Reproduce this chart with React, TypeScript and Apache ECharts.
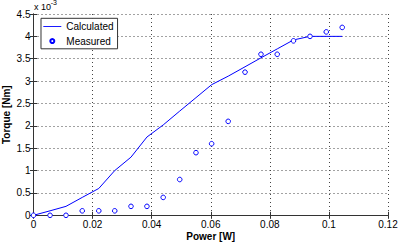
import React, { useEffect, useRef } from "react";
import * as echarts from "echarts";

// Power [W] at which torque was measured / calculated
const powerW = [
  0, 0.0056, 0.011, 0.0165, 0.0221, 0.0275, 0.033, 0.0384, 0.0439, 0.0495,
  0.055, 0.0603, 0.0659, 0.0716, 0.077, 0.0825, 0.088, 0.0936, 0.0991, 0.1045,
];
// Torque in units of 1e-3 Nm
const calculatedTorque = [
  0, 0.1, 0.2, 0.4, 0.6, 1.0, 1.3, 1.75, 2.02, 2.33, 2.63, 2.92, 3.11, 3.32,
  3.52, 3.72, 3.92, 4.0, 4.0, 4.0,
];
const measuredTorque = [
  0, 0, 0, 0.1, 0.1, 0.1, 0.2, 0.2, 0.4, 0.8, 1.4, 1.6, 2.1, 3.2, 3.6, 3.6,
  3.9, 4.0, 4.1, 4.2,
];
const xTicks = { min: 0, max: 0.12, interval: 0.02 };
const yTicks = { min: 0, max: 4.5, interval: 0.5 };
const seriesNames = ["Calculated", "Measured"];

const FONT = "Liberation Sans, Arial, Helvetica, sans-serif";
const AXIS_COLOR = "#333";
const BLUE = "#0000ff";

export default function App() {
  const ref = useRef<HTMLDivElement>(null);
  useEffect(() => {
    if (!ref.current) return;
    const chart = echarts.init(ref.current, null, { renderer: "svg" });
    const lineData = powerW.map((x, i) => [x, calculatedTorque[i]]);
    const scatterData = powerW.map((x, i) => [x, measuredTorque[i]]);
    const axisCommon = {
      type: "value" as const,
      axisLine: { show: true, lineStyle: { color: AXIS_COLOR, width: 1 } },
      axisTick: { show: true, inside: true, length: 3.5, lineStyle: { color: AXIS_COLOR } },
    };
    chart.setOption({
      animation: false,
      backgroundColor: "#fff",
      textStyle: { fontFamily: FONT },
      grid: {
        left: 33.5,
        right: 10,
        top: 14,
        bottom: 28.7,
        containLabel: false,
        outerBoundsMode: "none",
      },
      legend: {
        show: true,
        left: 41,
        top: 18.3,
        orient: "vertical",
        padding: [1.5, 4, 1, 2.3],
        itemGap: 1,
        itemWidth: 18,
        itemHeight: 5,
        backgroundColor: "#fff",
        borderColor: AXIS_COLOR,
        borderWidth: 1,
        borderRadius: 0,
        textStyle: {
          fontSize: 10,
          color: "#000",
          fontFamily: FONT,
          lineHeight: 13.5,
        },
        data: [
          {
            name: seriesNames[0],
            icon: "path://M0,0h20v1h-20z",
            itemStyle: { color: BLUE, borderWidth: 0 },
          },
          { name: seriesNames[1] },
        ],
      },
      xAxis: [
        {
          ...axisCommon,
          position: "bottom",
          ...xTicks,
          name: "Power [W]",
          nameLocation: "middle",
          nameGap: 16.5,
          nameMoveOverlap: false,
          nameTextStyle: { fontSize: 10, fontWeight: "bold", color: "#000", fontFamily: FONT },
          axisLabel: {
            show: true,
            margin: 4,
            fontSize: 10,
            color: "#000",
            fontFamily: FONT,
            formatter: (v: number) => String(+v.toFixed(2)),
          },
          splitLine: { show: true, lineStyle: { color: "#444", type: [1, 3], width: 1 } },
        },
        {
          ...axisCommon,
          position: "top",
          ...xTicks,
          axisLabel: { show: false },
          splitLine: { show: false },
        },
      ],
      yAxis: [
        {
          ...axisCommon,
          position: "left",
          ...yTicks,
          name: "Torque [Nm]",
          nameLocation: "middle",
          nameGap: 22,
          nameMoveOverlap: false,
          nameTextStyle: { fontSize: 10, fontWeight: "bold", color: "#000", fontFamily: FONT },
          axisLabel: {
            show: true,
            margin: 3,
            fontSize: 10,
            color: "#000",
            fontFamily: FONT,
            formatter: (v: number) => String(+v.toFixed(1)),
          },
          splitLine: { show: true, lineStyle: { color: "#444", type: [1, 3], width: 1 } },
        },
        {
          ...axisCommon,
          position: "right",
          ...yTicks,
          axisLabel: { show: false },
          splitLine: { show: false },
        },
      ],
      graphic: [
        {
          type: "text",
          left: 34,
          top: 2.5,
          style: { text: "x 10", fontSize: 9, fill: "#000", fontFamily: FONT },
        },
        {
          type: "text",
          left: 50.7,
          top: -1,
          style: { text: "-3", fontSize: 7, fill: "#000", fontFamily: FONT },
        },
      ],
      series: [
        {
          name: seriesNames[0],
          type: "line",
          data: lineData,
          symbol: "none",
          showSymbol: false,
          clip: false,
          lineStyle: { color: BLUE, width: 1 },
          itemStyle: { color: BLUE },
          z: 3,
        },
        {
          name: seriesNames[1],
          type: "line",
          data: scatterData,
          symbol: "circle",
          symbolSize: 4.6,
          showSymbol: true,
          clip: false,
          lineStyle: { width: 0, opacity: 0 },
          itemStyle: { color: "#fff", borderColor: BLUE, borderWidth: 1, opacity: 1 },
          z: 4,
        },
      ],
    });
    return () => chart.dispose();
  }, []);
  return (
    <div
      ref={ref}
      style={{ position: "fixed", left: 0, top: 0, width: 398, height: 244 }}
    />
  );
}
